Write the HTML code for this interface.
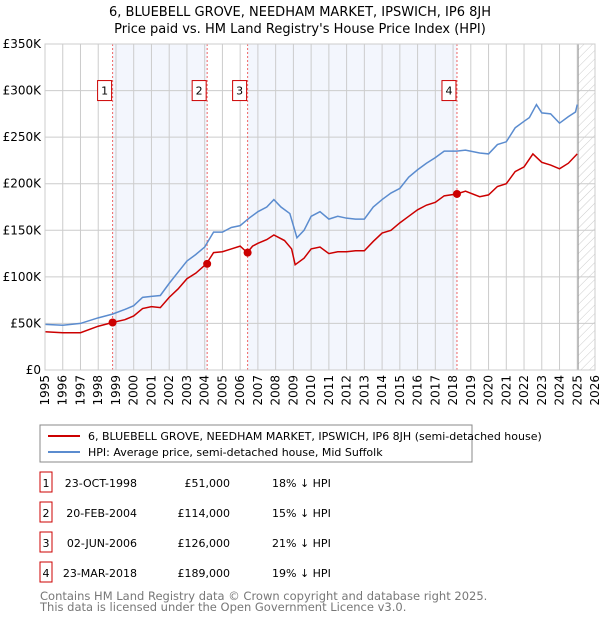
<!DOCTYPE html>
<html><head><meta charset="utf-8"><style>
body{margin:0;background:#fff;font-family:"DejaVu Sans","Liberation Sans",sans-serif;}
svg{display:block}
</style></head><body>
<svg id="c" width="600" height="620" xmlns="http://www.w3.org/2000/svg" font-family="DejaVu Sans, Liberation Sans, sans-serif">
<text x="300" y="16" text-anchor="middle" font-size="13">6, BLUEBELL GROVE, NEEDHAM MARKET, IPSWICH, IP6 8JH</text>
<text x="300" y="33" text-anchor="middle" font-size="13">Price paid vs. HM Land Registry's House Price Index (HPI)</text>
<defs><pattern id="h" width="6" height="6" patternUnits="userSpaceOnUse" patternTransform="rotate(45)"><line x1="0" y1="0" x2="0" y2="6" stroke="#ccc" stroke-width="1"/></pattern></defs>
<g id="plot"></g>
<rect x="40" y="425" width="432" height="37" fill="none" stroke="#888"/>
<line x1="48" y1="436" x2="80" y2="436" stroke="#cc0000" stroke-width="2"/>
<text x="88" y="440" font-size="11">6, BLUEBELL GROVE, NEEDHAM MARKET, IPSWICH, IP6 8JH (semi-detached house)</text>
<line x1="48" y1="452" x2="80" y2="452" stroke="#5b8ccf" stroke-width="2"/>
<text x="88" y="456" font-size="11">HPI: Average price, semi-detached house, Mid Suffolk</text>
<g id="tbl" font-size="11"></g>
<text x="40" y="600" font-size="11.5" fill="#777">Contains HM Land Registry data © Crown copyright and database right 2025.</text>
<text x="40" y="611" font-size="11.5" fill="#777">This data is licensed under the Open Government Licence v3.0.</text>
</svg>
<script>
const hpiT=[1995,1996,1997,1998,1998.8,1999.5,2000,2000.5,2001,2001.5,2002,2002.5,2003,2003.5,2004,2004.5,2005,2005.5,2006,2006.5,2007,2007.5,2007.9,2008.3,2008.8,2009.2,2009.6,2010,2010.5,2011,2011.5,2012,2012.5,2013,2013.5,2014,2014.5,2015,2015.5,2016,2016.5,2017,2017.5,2018.2,2018.7,2019.5,2020,2020.5,2021,2021.5,2022,2022.3,2022.7,2023,2023.5,2024,2024.5,2024.9,2025.0];
const hpiV=[49,48,50,56,60,65,69,78,79,80,93,105,117,124,132,148,148,153,155,163,170,175,183,175,168,142,150,165,170,162,165,163,162,162,175,183,190,195,207,215,222,228,235,235,236,233,232,242,245,260,267,271,285,276,275,265,272,277,285];
const redT=[1995,1996,1997,1998,1998.8,1999.5,2000,2000.5,2001,2001.5,2002,2002.5,2003,2003.5,2004.1,2004.5,2005,2005.5,2006,2006.4,2006.7,2007,2007.5,2007.9,2008.5,2008.9,2009.1,2009.6,2010,2010.5,2011,2011.5,2012,2012.5,2013,2013.5,2014,2014.5,2015,2015.5,2016,2016.5,2017,2017.5,2018.2,2018.7,2019.5,2020,2020.5,2021,2021.5,2022,2022.5,2023,2023.5,2024,2024.5,2025];
const redV=[41,40,40,47,51,54,58,66,68,67,78,87,98,104,114,126,127,130,133,126,133,136,140,145,139,130,113,120,130,132,125,127,127,128,128,138,147,150,158,165,172,177,180,187,189,192,186,188,197,200,213,218,232,223,220,216,222,232];
const saleLabels=["1","2","3","4"];
const saleT=[1998.81,2004.14,2006.42,2018.22];
const saleV=[51,114,126,189];
const saleDates=["23-OCT-1998","20-FEB-2004","02-JUN-2006","23-MAR-2018"];
const salePrices=["£51,000","£114,000","£126,000","£189,000"];
const salePct=["18% ↓ HPI","15% ↓ HPI","21% ↓ HPI","19% ↓ HPI"];
const yTicks=[0,50,100,150,200,250,300,350];
const yTickLabels=["£0","£50K","£100K","£150K","£200K","£250K","£300K","£350K"];
const xYears=[1995,1996,1997,1998,1999,2000,2001,2002,2003,2004,2005,2006,2007,2008,2009,2010,2011,2012,2013,2014,2015,2016,2017,2018,2019,2020,2021,2022,2023,2024,2025,2026];
const X0=45,X1=595,Y0=370,Y1=44;
const x=t=>X0+(t-1995)/(2026-1995)*(X1-X0);
const y=v=>Y0-v/350*(Y0-Y1);
const NS="http://www.w3.org/2000/svg";
const g=document.getElementById('plot');
function mk(tag,at,parent){const e=document.createElementNS(NS,tag);for(const k in at)e.setAttribute(k,at[k]);(parent||g).appendChild(e);return e;}
let e;
e=mk('rect',{x:x(saleT[0]),y:Y1,width:x(saleT[1])-x(saleT[0]),height:Y0-Y1,fill:'#eef2fc',opacity:0.7});


e=mk('rect',{x:x(saleT[2]),y:Y1,width:x(saleT[3])-x(saleT[2]),height:Y0-Y1,fill:'#eef2fc',opacity:0.7});


e=mk('rect',{x:x(2025.05),y:Y1,width:X1-x(2025.05),height:Y0-Y1,fill:'url(#h)'});


xYears.forEach(yr=>{
 e=mk('line',{x1:x(yr),x2:x(yr),y1:Y1,y2:Y0,stroke:'#ccc'});
 
 
 const tx=x(yr)+4, ty=375;
 e=mk('text',{x:tx,y:ty,'text-anchor':'end','font-size':12,transform:'rotate(-90 '+tx+' '+ty+')'});
 e.textContent=yr;
 
 
});
yTicks.forEach((v,i)=>{
 e=mk('line',{x1:X0,x2:X1,y1:y(v),y2:y(v),stroke:'#ccc'});
 
 
 e=mk('text',{x:X0-4,y:y(v)+4,'text-anchor':'end','font-size':12});
 e.textContent=yTickLabels[i];
 
 
});
e=mk('line',{x1:x(2025.05),x2:x(2025.05),y1:Y1,y2:Y0,stroke:'#999'});


saleT.forEach((t,i)=>{
 e=mk('line',{x1:x(t),x2:x(t),y1:Y1,y2:Y0,stroke:'#e66','stroke-dasharray':'2,2'});
 
 
 e=mk('rect',{x:x(t)-15,y:y(300)-10,width:14,height:20,fill:'#fff',stroke:'#c00'});
 
 
 e=mk('text',{x:x(t)-8,y:y(300)+4,'text-anchor':'middle','font-size':11});
 e.textContent=saleLabels[i];
 
 
});
e=mk('polyline',{points:hpiT.map((t,i)=>x(t)+','+y(hpiV[i])).join(' '),fill:'none',stroke:'#5b8ccf','stroke-width':1.5});


e=mk('polyline',{points:redT.map((t,i)=>x(t)+','+y(redV[i])).join(' '),fill:'none',stroke:'#cc0000','stroke-width':1.5});


saleT.forEach((t,i)=>{
 e=mk('circle',{cx:x(t),cy:y(saleV[i]),r:4,fill:'#cc0000'});
 
 
});
e=mk('rect',{x:X0,y:Y1,width:X1-X0,height:Y0-Y1,fill:'none',stroke:'#ccc'});


const tb=document.getElementById('tbl');
saleLabels.forEach((l,i)=>{
 const cy=483+i*30;
 e=mk('rect',{x:40,y:cy-11,width:12,height:20,fill:'#fff',stroke:'#c00'},tb);
 
 
 e=mk('text',{x:46,y:cy+4,'text-anchor':'middle'},tb);e.textContent=l;
 
 
 e=mk('text',{x:137,y:cy+4,'text-anchor':'end'},tb);e.textContent=saleDates[i];
 
 
 e=mk('text',{x:230,y:cy+4,'text-anchor':'end'},tb);e.textContent=salePrices[i];
 
 
 e=mk('text',{x:272,y:cy+4},tb);e.textContent=salePct[i];
 
 
});
</script>
</body></html>
